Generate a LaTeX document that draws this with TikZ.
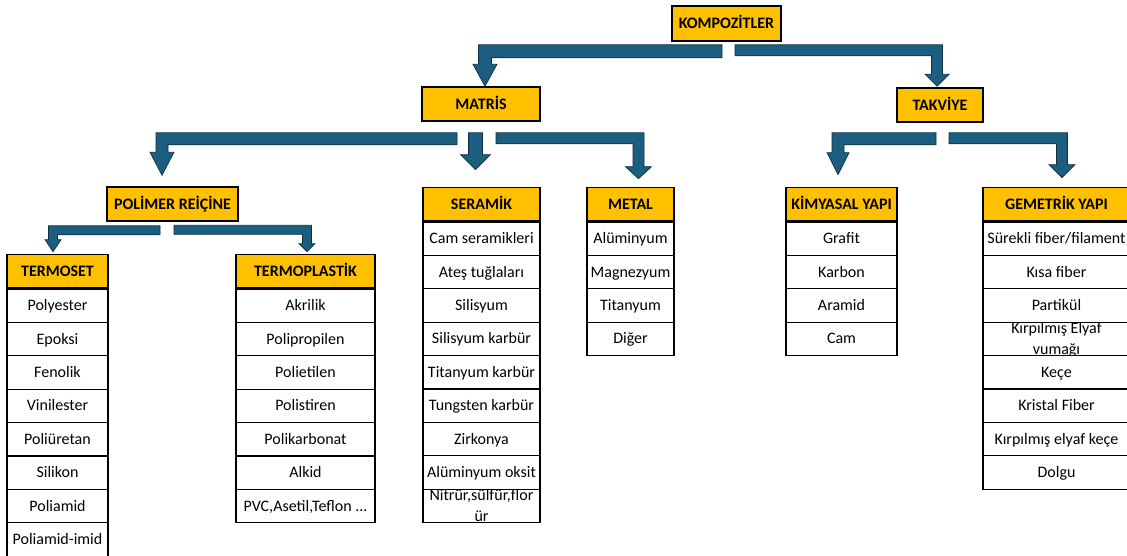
\documentclass[tikz,border=0pt]{standalone}
\usepackage{fontspec}
\setmainfont{Carlito}
\usepackage{tikz}
\usetikzlibrary{
  calc,
  positioning,
  backgrounds
}
\definecolor{hdryellow}{HTML}{FFC000}
\definecolor{arrowblue}{HTML}{1B5E80}
\definecolor{arrowline}{HTML}{0E2F40}
\newcommand{\cellfont}{\fontsize{16}{19}\selectfont}
\newcommand{\wrapcell}[2]{\smash{\def\arraystretch{1.1}\begin{tabular}{@{}c@{}}#1\\#2\end{tabular}}}
\newcommand{\blockarrow}[6]{%
  \filldraw[blkarrow] let \p1=(#1), \p2=(#2) in
    (\x1,\y1) -- ({\x2+(#3)*#4pt/2},\y1)
    -- ({\x2+(#3)*#4pt/2},{\y2+#6pt}) -- ({\x2+(#3)*#5pt},{\y2+#6pt})
    -- (\x2,\y2)
    -- ({\x2-(#3)*#5pt},{\y2+#6pt}) -- ({\x2-(#3)*#4pt/2},{\y2+#6pt})
    -- ({\x2-(#3)*#4pt/2},{\y1-#4pt}) -- (\x1,{\y1-#4pt}) -- cycle;
}
\tikzset{
  topbox/.style={draw, line width=1.5pt, fill=hdryellow, font=\cellfont\bfseries,
    inner sep=0pt, text height=13pt, text depth=3pt},
  headcell/.style={draw, line width=1.2pt, fill=hdryellow, font=\cellfont\bfseries,
    minimum width=#1, minimum height=33.4pt, inner sep=0pt, text height=13pt, text depth=3pt},
  itemcell/.style={draw, line width=1.2pt, fill=white, font=\cellfont,
    minimum width=#1, minimum height=33.4pt, inner sep=0pt, text height=13pt, text depth=3pt,
    anchor=north},
  blkarrow/.style={fill=arrowblue, draw=arrowline, line width=0.7pt, line join=miter}
}

\begin{document}
\begin{tikzpicture}[x=1pt, y=-1pt, line join=miter]
    \useasboundingbox (0,0) rectangle (1127,555);

    \node[topbox, minimum width=109pt, minimum height=35pt] (komp) at (726.5,23.5) {KOMPOZİTLER};
    \node[topbox, minimum width=118pt, minimum height=34pt] (matris) at (481,104) {MATRİS};
    \node[topbox, minimum width=86pt, minimum height=34pt] (takviye) at (940,105) {TAKVİYE};
    \node[topbox, minimum width=131pt, minimum height=34pt] (polimer) at (172.5,204) {POLİMER REİÇİNE};

    \node[headcell=101pt] (termoset) at (57.5,271) {TERMOSET};
    \node[headcell=139pt] (termoplastik) at (305.5,271) {TERMOPLASTİK};
    \node[headcell=117pt] (seramik) at (481.5,204) {SERAMİK};
    \node[headcell=87pt] (metal) at (630.5,204) {METAL};
    \node[headcell=111pt] (kimyasal) at (841.5,204) {KİMYASAL YAPI};
    \node[headcell=147pt] (gemetrik) at (1056.5,204) {GEMETRİK YAPI};

    \foreach \txt [count=\i] in {Polyester,Epoksi,Fenolik,Vinilester,Poliüretan,Silikon,Poliamid,Poliamid-imid}
        \node[itemcell=101pt] (termoset-\i) at ($(termoset.south)+(0,{(\i-1)*33.4})$) {\txt};
    \foreach \txt [count=\i] in {Akrilik,Polipropilen,Polietilen,Polistiren,Polikarbonat,Alkid,{PVC,Asetil,Teflon .{}.{}.}}
        \node[itemcell=139pt] (termoplastik-\i) at ($(termoplastik.south)+(0,{(\i-1)*33.4})$) {\txt};
    \foreach \txt [count=\i] in {Cam seramikleri,Ateş tuğlaları,Silisyum,Silisyum karbür,Titanyum karbür,Tungsten karbür,Zirkonya,Alüminyum oksit,{\wrapcell{Nitrür,sülfür,flor}{ür}}}
        \node[itemcell=117pt] (seramik-\i) at ($(seramik.south)+(0,{(\i-1)*33.4})$) {\txt};
    \foreach \txt [count=\i] in {Alüminyum,Magnezyum,Titanyum,Diğer}
        \node[itemcell=87pt] (metal-\i) at ($(metal.south)+(0,{(\i-1)*33.4})$) {\txt};
    \foreach \txt [count=\i] in {Grafit,Karbon,Aramid,Cam}
        \node[itemcell=111pt] (kimyasal-\i) at ($(kimyasal.south)+(0,{(\i-1)*33.4})$) {\txt};
    \foreach \txt [count=\i] in {Sürekli fiber/filament,Kısa fiber,Partikül,{\wrapcell{Kırpılmış Elyaf}{vumağı}},Keçe,Kristal Fiber,Kırpılmış elyaf keçe,Dolgu}
        \node[itemcell=147pt] (gemetrik-\i) at ($(gemetrik.south)+(0,{(\i-1)*33.4})$) {\txt};

    \begin{scope}[on background layer]
        \blockarrow{$(komp.south)+(-4.5,3)$}{$(matris.north)+(4,0)$}{-1}{13}{12}{22}
        \blockarrow{$(komp.south)+(8.5,3)$}{$(takviye.north)+(-3,-1)$}{1}{11}{12}{12}
        \blockarrow{$(matris.south)+(-24,11)$}{$(polimer.north)+(-10.5,-11)$}{-1}{12}{12}{23}
        \blockarrow{$(matris.south)+(-12.5,11)$}{$(seramik.north)+(-6,-17)$}{1}{14}{15}{15}
        \blockarrow{$(matris.south)+(15,11)$}{$(metal.north)+(8,-8)$}{1}{11}{13}{12}
        \blockarrow{$(takviye.south)+(-4,10)$}{$(kimyasal.north)+(-3.5,-12)$}{-1}{12}{11}{22}
        \blockarrow{$(takviye.south)+(9,10)$}{$(gemetrik.north)+(5.5,-9)$}{1}{11}{13}{13}
        \blockarrow{$(polimer.south)+(-12.5,4)$}{$(termoset.north)+(-4.5,-2)$}{-1}{9}{8}{12}
        \blockarrow{$(polimer.south)+(1.5,3.5)$}{$(termoplastik.north)+(1.5,-2)$}{1}{9}{8}{8}
    \end{scope}
\end{tikzpicture}
\end{document}
